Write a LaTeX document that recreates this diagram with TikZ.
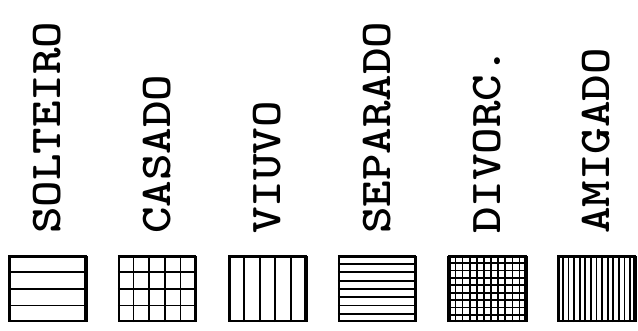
\documentclass[tikz,border=0pt]{standalone}
\usepackage{fontspec}
\usetikzlibrary{calc}

\begin{document}
\begin{tikzpicture}[x=1pt,y=1pt,
    estado/.style={rotate=90,anchor=west,inner sep=0pt,
      font=\ttfamily\bfseries\fontsize{50.5}{50.5}\selectfont},
    quadro/.style={draw,line width=2.4pt,minimum width=76pt,
      minimum height=64pt,inner sep=0pt},
    risca/.style={line width=1.8pt}]
  \useasboundingbox (0,0) rectangle (638,331);
  % estado civil: nome, colunas e linhas da trama
  \foreach \i/\x/\nome/\nc/\nr in {1/47.5/SOLTEIRO/1/4,2/157/CASADO/5/4,
      3/267.5/VIUVO/5/1,4/377/SEPARADO/1/8,5/487.5/DIVORC./11/9,
      6/596.5/AMIGADO/14/1}{
    \node[estado] (nome\i) at (\x,97) {\scalebox{1}[0.87]{\nome}};
    \node[quadro] (quadro\i) at (\x,42) {};
    \foreach \k in {1,...,\nc}
      \draw[risca] ($(quadro\i.south west)!\k/\nc!(quadro\i.south east)$)
        -- ($(quadro\i.north west)!\k/\nc!(quadro\i.north east)$);
    \foreach \k in {1,...,\nr}
      \draw[risca] ($(quadro\i.south west)!\k/\nr!(quadro\i.north west)$)
        -- ($(quadro\i.south east)!\k/\nr!(quadro\i.north east)$);
  }
  \draw[line width=3.5pt] (quadro5.south west) -- (quadro5.north west);
\end{tikzpicture}
\end{document}
